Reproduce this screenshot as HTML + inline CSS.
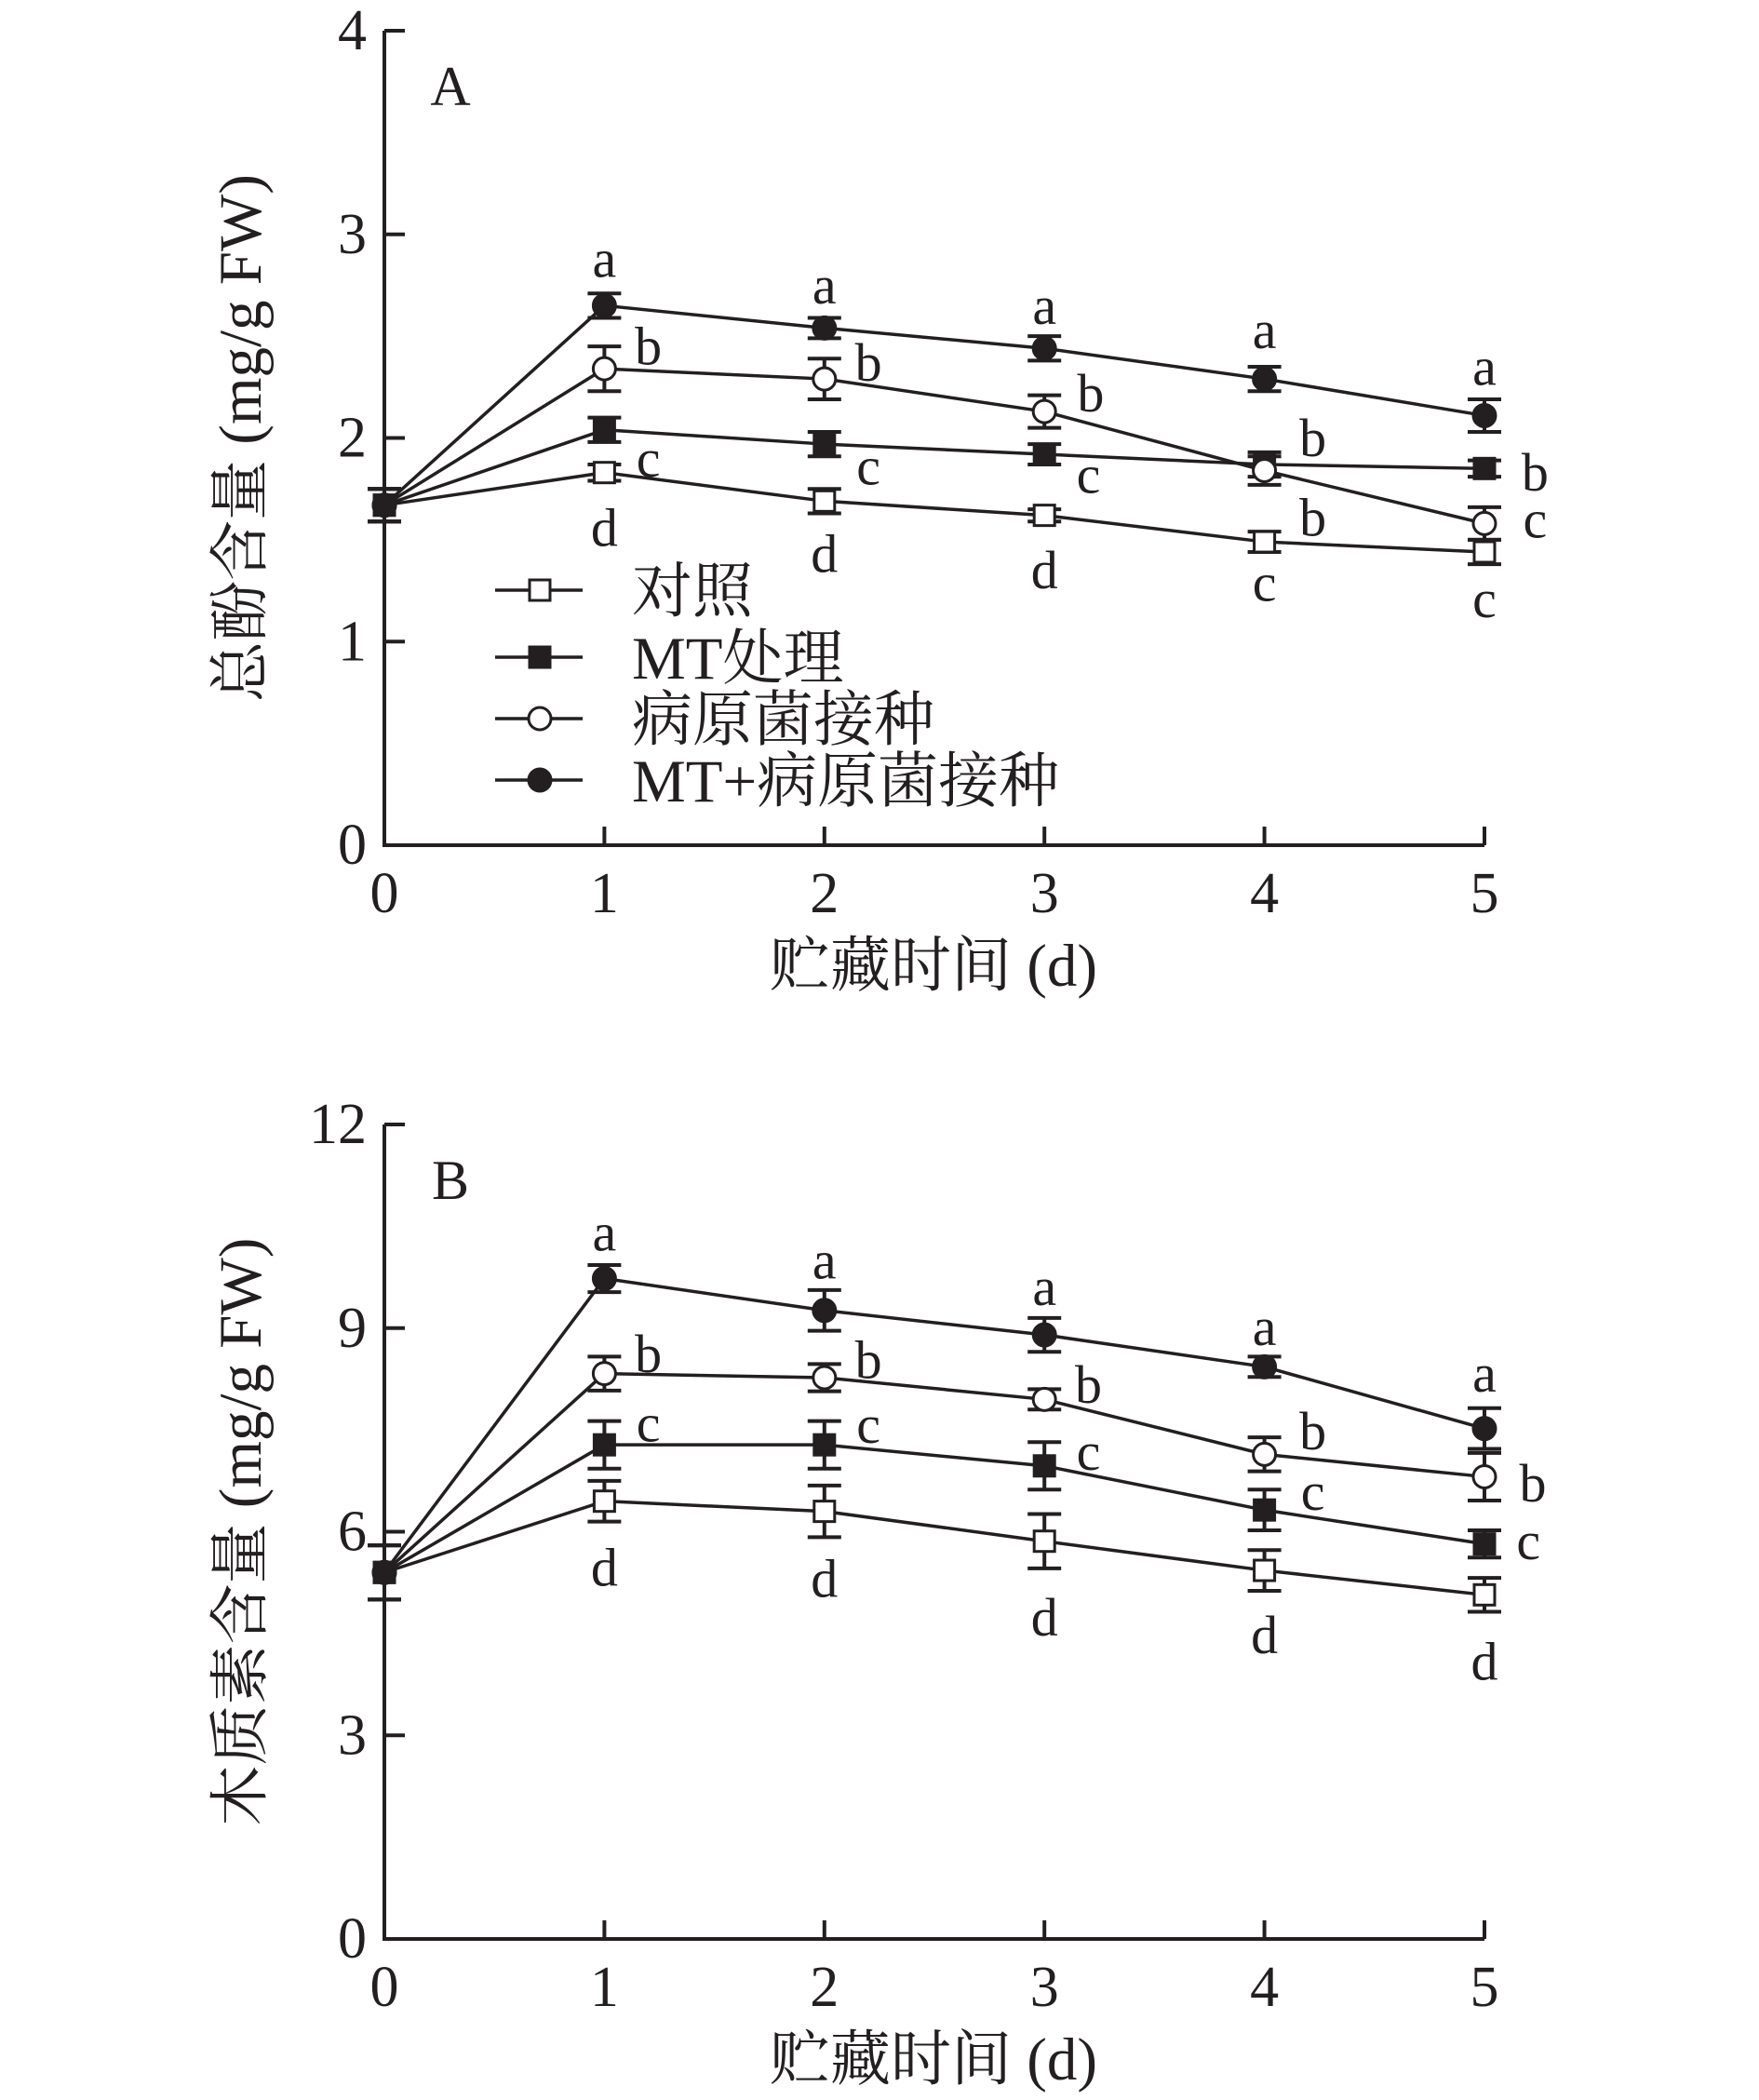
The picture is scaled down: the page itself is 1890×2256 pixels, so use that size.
<!DOCTYPE html>
<html><head><meta charset="utf-8"><style>
html,body{margin:0;padding:0;background:#fff}
svg{display:block}
text{font-family:"Liberation Serif","Noto Serif CJK SC","Noto Sans CJK SC",serif;fill:#231f20}
</style></head><body>
<svg id="chart" width="1890" height="2256" viewBox="0 0 1890 2256" xmlns="http://www.w3.org/2000/svg"></svg>
<script>
const days = [0,1,2,3,4,5];
const seriesNames = ["对照","MT处理","病原菌接种","MT+病原菌接种"];
// Panel A: total phenol
const aControl = [1.67,1.83,1.69,1.62,1.49,1.44];
const aMT      = [1.67,2.04,1.97,1.92,1.87,1.85];
const aPath    = [1.67,2.34,2.29,2.13,1.84,1.58];
const aMTPath  = [1.67,2.65,2.54,2.44,2.29,2.11];
const aErrControl = [0.08,0.04,0.06,0.03,0.05,0.06];
const aErrMT      = [0.08,0.06,0.06,0.05,0.06,0.04];
const aErrPath    = [0.08,0.11,0.10,0.08,0.07,0.08];
const aErrMTPath  = [0.08,0.06,0.05,0.06,0.06,0.08];
const aTicks = [0,1,2,3,4];
const aLetters = [["a",1,2.88],["b",1.2,2.45],["c",1.2,1.90],["d",1,1.56],
 ["a",2,2.75],["b",2.2,2.37],["c",2.2,1.86],["d",2,1.43],
 ["a",3,2.65],["b",3.21,2.22],["c",3.2,1.82],["d",3,1.35],
 ["a",4,2.53],["b",4.22,2.0],["b",4.22,1.61],["c",4,1.29],
 ["a",5,2.35],["b",5.23,1.83],["c",5.23,1.60],["c",5,1.21]];
// Panel B: lignin
const bControl = [5.4,6.45,6.3,5.86,5.43,5.07];
const bMT      = [5.4,7.28,7.28,6.97,6.32,5.82];
const bPath    = [5.4,8.33,8.27,7.95,7.14,6.81];
const bMTPath  = [5.4,9.73,9.26,8.9,8.43,7.52];
const bErrControl = [0.4,0.3,0.38,0.4,0.3,0.25];
const bErrMT      = [0.4,0.35,0.35,0.35,0.3,0.2];
const bErrPath    = [0.4,0.25,0.2,0.15,0.25,0.35];
const bErrMTPath  = [0.4,0.2,0.3,0.25,0.15,0.3];
const bTicks = [0,3,6,9,12];
const bLetters = [["a",1,10.41],["b",1.2,8.62],["c",1.2,7.6],["d",1,5.47],
 ["a",2,10.0],["b",2.2,8.53],["c",2.2,7.58],["d",2,5.31],
 ["a",3,9.61],["b",3.2,8.17],["c",3.2,7.18],["d",3,4.74],
 ["a",4,9.02],["b",4.22,7.48],["c",4.22,6.59],["d",4,4.48],
 ["a",5,8.33],["b",5.22,6.71],["c",5.2,5.86],["d",5,4.09]];

const svg = document.getElementById('chart');
const NS = "http://www.w3.org/2000/svg";
function mk(tag, attrs, parent){
  const e = document.createElementNS(NS, tag);
  for (const k in attrs) e.setAttribute(k, attrs[k]);
  (parent||svg).appendChild(e);
  return e;
}
const X0 = 413, X5 = 1595;
function xs(d){ return X0 + (X5-X0)*d/5; }
const markers = ["square-open","square-filled","circle-open","circle-filled"];
function marker(type, x, y, g){
  let e;
  if (type.startsWith("square")) e = mk('rect',{x:x-11,y:y-11,width:22,height:22,fill:type.endsWith("open")?"#fff":"#231f20",stroke:"#231f20","stroke-width":3},g);
  else e = mk('circle',{cx:x,cy:y,r:12,fill:type.endsWith("open")?"#fff":"#231f20",stroke:"#231f20","stroke-width":3},g);
  return e;
}
function panel(id, y0px, ymax, ticks, series, errs, letters, title, letterLabel, legend){
  const H = 875;
  const ys = v => y0px - H*v/ymax;
  const g = mk('g',{});  
  const ax = mk('path',{d:`M${X0} ${ys(ymax)} V${y0px} H${X5}`,fill:"none",stroke:"#231f20","stroke-width":4},g);
   
  ticks.forEach(t=>{
    mk('line',{x1:X0,x2:X0+22,y1:ys(t),y2:ys(t),stroke:"#231f20","stroke-width":4},g);
    const tl = mk('text',{x:394,y:ys(t),"text-anchor":"end","dominant-baseline":"central","font-size":62},g);
    tl.textContent = t;
     
  });
  days.forEach(d=>{
    if (d>0) mk('line',{x1:xs(d),x2:xs(d),y1:y0px,y2:y0px-20,stroke:"#231f20","stroke-width":4},g);
    const tl = mk('text',{x:xs(d),y:y0px+52,"text-anchor":"middle","dominant-baseline":"central","font-size":62},g);
    tl.textContent = d;
     
  });
  const xt = mk('text',{x:1003,y:y0px+130,"text-anchor":"middle","dominant-baseline":"central","font-size":65},g);
  xt.textContent = "贮藏时间 (d)";
   
  const ymid = y0px - H/2;
  const yt = mk('text',{x:259,y:ymid,"text-anchor":"middle","dominant-baseline":"central","font-size":65,transform:`rotate(-90 259 ${ymid})`},g);
  yt.textContent = title;
   
  const pl = mk('text',{x:484,y:ys(ymax)+60,"text-anchor":"middle","dominant-baseline":"central","font-size":60},g);
  pl.textContent = letterLabel;
   
  series.forEach((vals,si)=>{
    const sg = mk('g',{},g);
     
    const pts = vals.map((v,i)=>xs(days[i])+','+ys(v)).join(' ');
    const ln = mk('polyline',{points:pts,fill:"none",stroke:"#231f20","stroke-width":3.5},sg);
     
    vals.forEach((v,i)=>{
      const x = xs(days[i]), e = errs[si][i];
      const eb = mk('path',{d:`M${x} ${ys(v+e)} V${ys(v-e)} M${x-18} ${ys(v+e)} H${x+18} M${x-18} ${ys(v-e)} H${x+18}`,stroke:"#231f20","stroke-width":4,fill:"none"},sg);
       
    });
    vals.forEach((v,i)=>{
      const m = marker(markers[si], xs(days[i]), ys(v), sg);
       
    });
  });
  letters.forEach(L=>{
    const t = mk('text',{x:xs(L[1]),y:ys(L[2]),"text-anchor":"middle","dominant-baseline":"central","font-size":58},g);
    t.textContent = L[0];
     
  });
  if (legend){
    const lys = [634,706,772,838];
    seriesNames.forEach((n,i)=>{
      const lg = mk('g',{},g);
       
      mk('line',{x1:532,x2:626,y1:lys[i],y2:lys[i],stroke:"#231f20","stroke-width":3.5},lg);
      marker(markers[i],580,lys[i],lg);
      const t = mk('text',{x:679,y:lys[i]+2,"dominant-baseline":"central","font-size":65},lg);
      t.textContent = n;
    });
  }
}
panel('a', 908, 4, aTicks, [aControl,aMT,aPath,aMTPath], [aErrControl,aErrMT,aErrPath,aErrMTPath], aLetters, "总酚含量 (mg/g FW)", "A", true);
panel('b', 2083, 12, bTicks, [bControl,bMT,bPath,bMTPath], [bErrControl,bErrMT,bErrPath,bErrMTPath], bLetters, "木质素含量 (mg/g FW)", "B", false);
</script>
</body></html>
